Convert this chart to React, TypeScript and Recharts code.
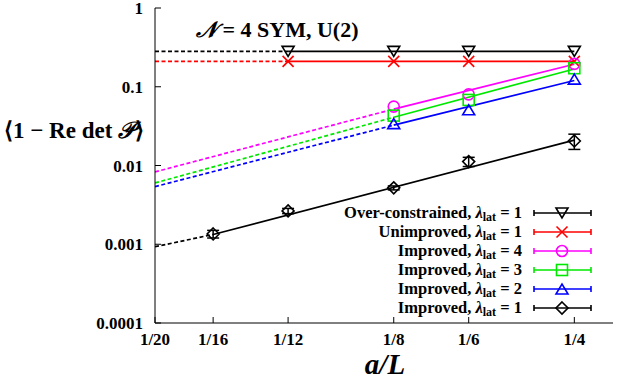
import React from 'react';
import { ComposedChart, Line, Scatter, XAxis, YAxis, ErrorBar } from 'recharts';

// axis ticks
const xTicks = [1 / 20, 1 / 16, 1 / 12, 1 / 8, 1 / 6, 1 / 4];
const xTickLabels = ['1/20', '1/16', '1/12', '1/8', '1/6', '1/4'];
const yTicks = [0.0001, 0.001, 0.01, 0.1, 1];
const yTickLabels = ['0.0001', '0.001', '0.01', '0.1', '1'];

// measured points
const overX = [1 / 12, 1 / 8, 1 / 6, 1 / 4];
const overY = [0.281, 0.281, 0.281, 0.281];
const unimpX = [1 / 12, 1 / 8, 1 / 6, 1 / 4];
const unimpY = [0.21, 0.21, 0.21, 0.21];
const imp4X = [1 / 8, 1 / 6, 1 / 4];
const imp4Y = [0.056, 0.08, 0.195];
const imp3X = [1 / 8, 1 / 6, 1 / 4];
const imp3Y = [0.043, 0.068, 0.172];
const imp2X = [1 / 8, 1 / 6, 1 / 4];
const imp2Y = [0.034, 0.051, 0.125];
const imp1X = [1 / 16, 1 / 12, 1 / 8, 1 / 6, 1 / 4];
const imp1Y = [0.00135, 0.00265, 0.0052, 0.0112, 0.0205];
const imp1Err = [0.00015, 0.0002, 0.0003, 0.0015, 0.0045];

// fits (solid) and their extrapolation to 1/20 (dashed)
const overFitX = [1 / 12, 1 / 4];
const overFitY = [0.281, 0.281];
const overExtX = [1 / 20, 1 / 12];
const overExtY = [0.281, 0.281];
const unimpFitX = [1 / 12, 1 / 4];
const unimpFitY = [0.21, 0.21];
const unimpExtX = [1 / 20, 1 / 12];
const unimpExtY = [0.21, 0.21];
const imp4FitX = [1 / 8, 1 / 4];
const imp4FitY = [0.052, 0.193];
const imp4ExtX = [1 / 20, 1 / 8];
const imp4ExtY = [0.0083, 0.052];
const imp3FitX = [1 / 8, 1 / 4];
const imp3FitY = [0.041, 0.168];
const imp3ExtX = [1 / 20, 1 / 8];
const imp3ExtY = [0.006, 0.041];
const imp2FitX = [1 / 8, 1 / 4];
const imp2FitY = [0.0326, 0.12];
const imp2ExtX = [1 / 20, 1 / 8];
const imp2ExtY = [0.0054, 0.0326];
const imp1FitX = [1 / 16, 1 / 4];
const imp1FitY = [0.00133, 0.021];
const imp1ExtX = [1 / 20, 1 / 16];
const imp1ExtY = [0.00093, 0.00133];

const pts = (xs: number[], ys: number[], errs?: number[]) =>
  xs.map((x, i) => ({ x, y: ys[i], err: errs ? errs[i] : 0 }));

type MarkerKind = 'triDown' | 'cross' | 'circle' | 'square' | 'triUp' | 'diamond';

const series = [
  { label: 'Over-constrained', lam: 1, color: '#000000', marker: 'triDown' as MarkerKind, points: pts(overX, overY), fit: pts(overFitX, overFitY), ext: pts(overExtX, overExtY) },
  { label: 'Unimproved', lam: 1, color: '#ff0000', marker: 'cross' as MarkerKind, points: pts(unimpX, unimpY), fit: pts(unimpFitX, unimpFitY), ext: pts(unimpExtX, unimpExtY) },
  { label: 'Improved', lam: 4, color: '#ff00ff', marker: 'circle' as MarkerKind, points: pts(imp4X, imp4Y), fit: pts(imp4FitX, imp4FitY), ext: pts(imp4ExtX, imp4ExtY) },
  { label: 'Improved', lam: 3, color: '#00e800', marker: 'square' as MarkerKind, points: pts(imp3X, imp3Y), fit: pts(imp3FitX, imp3FitY), ext: pts(imp3ExtX, imp3ExtY) },
  { label: 'Improved', lam: 2, color: '#0000ff', marker: 'triUp' as MarkerKind, points: pts(imp2X, imp2Y), fit: pts(imp2FitX, imp2FitY), ext: pts(imp2ExtX, imp2ExtY) },
  { label: 'Improved', lam: 1, color: '#000000', marker: 'diamond' as MarkerKind, points: pts(imp1X, imp1Y, imp1Err), fit: pts(imp1FitX, imp1FitY), ext: pts(imp1ExtX, imp1ExtY), errors: true },
];

const FONT = '"Liberation Serif", "Times New Roman", serif';
const TICK = 6;

const Marker = ({ kind, cx, cy, color }: { kind: MarkerKind; cx: number; cy: number; color: string }) => {
  const sw = 1.6;
  const common = { fill: 'none', stroke: color, strokeWidth: sw };
  switch (kind) {
    case 'triDown':
      return <polygon points={`${cx - 6},${cy - 5} ${cx + 6},${cy - 5} ${cx},${cy + 5}`} {...common} />;
    case 'triUp':
      return <polygon points={`${cx - 6},${cy + 5} ${cx + 6},${cy + 5} ${cx},${cy - 5}`} {...common} />;
    case 'cross':
      return (
        <g {...common}>
          <line x1={cx - 5.5} y1={cy - 5.5} x2={cx + 5.5} y2={cy + 5.5} />
          <line x1={cx - 5.5} y1={cy + 5.5} x2={cx + 5.5} y2={cy - 5.5} />
        </g>
      );
    case 'circle':
      return <circle cx={cx} cy={cy} r={5.5} {...common} />;
    case 'square':
      return <rect x={cx - 5.5} y={cy - 5.5} width={11} height={11} {...common} />;
    default:
      return <polygon points={`${cx},${cy - 6} ${cx + 6},${cy} ${cx},${cy + 6} ${cx - 6},${cy}`} {...common} />;
  }
};

const idx = (arr: number[], v: number) => arr.findIndex((t) => Math.abs(t - v) < 1e-9);

const BottomTick = (props: any) => {
  const { x, y, payload } = props;
  return (
    <g>
      <line x1={x} x2={x} y1={y} y2={y - TICK} stroke="#000" />
      <text x={x} y={y + 22} textAnchor="middle" style={{ fontFamily: FONT }} fontWeight="bold" fontSize={17} fill="#000">
        {xTickLabels[idx(xTicks, payload.value)]}
      </text>
    </g>
  );
};

const TopTick = (props: any) => {
  const { x, y } = props;
  return <line x1={x} x2={x} y1={y} y2={y + TICK} stroke="#000" />;
};

const LeftTick = (props: any) => {
  const { x, y, payload } = props;
  return (
    <g>
      <line x1={x} x2={x + TICK} y1={y} y2={y} stroke="#000" />
      <text x={x - 12} y={y + 6} textAnchor="end" style={{ fontFamily: FONT }} fontWeight="bold" fontSize={17} fill="#000">
        {yTickLabels[idx(yTicks, payload.value)]}
      </text>
    </g>
  );
};

const RightTick = (props: any) => {
  const { x, y } = props;
  return <line x1={x} x2={x - TICK} y1={y} y2={y} stroke="#000" />;
};

const legendRows = [213, 232, 251, 270, 289, 308];

export default function App() {
  return (
    <div style={{ position: 'absolute', left: 0, top: 0, width: 620, height: 381, background: '#fff', fontFamily: FONT }}>
      <ComposedChart width={620} height={381} margin={{ top: 8, right: 7, bottom: 0, left: 0 }}>
        <XAxis
          dataKey="x"
          type="number"
          scale="log"
          domain={[0.05, 0.29]}
          allowDataOverflow
          ticks={xTicks}
          interval={0}
          height={58}
          tickSize={0}
          tickMargin={0}
          tick={<BottomTick />}
          axisLine={{ stroke: '#000' }}
          tickLine={false}
        />
        <XAxis
          xAxisId="top"
          orientation="top"
          dataKey="x"
          type="number"
          scale="log"
          domain={[0.05, 0.29]}
          allowDataOverflow
          ticks={xTicks}
          interval={0}
          height={0}
          tickSize={0}
          tickMargin={0}
          tick={<TopTick />}
          axisLine={{ stroke: '#000' }}
          tickLine={false}
        />
        <YAxis
          dataKey="y"
          type="number"
          scale="log"
          domain={[0.0001, 1]}
          allowDataOverflow
          ticks={yTicks}
          interval={0}
          width={155}
          tickSize={0}
          tickMargin={0}
          tick={<LeftTick />}
          axisLine={{ stroke: '#000' }}
          tickLine={false}
        />
        <YAxis
          yAxisId="right"
          orientation="right"
          dataKey="y"
          type="number"
          scale="log"
          domain={[0.0001, 1]}
          allowDataOverflow
          ticks={yTicks}
          interval={0}
          width={0}
          tickSize={0}
          tickMargin={0}
          tick={<RightTick />}
          axisLine={{ stroke: '#000' }}
          tickLine={false}
        />
        {series.map((s, i) => (
          <Line
            key={`ext-${i}`}
            data={s.ext}
            dataKey="y"
            type="linear"
            stroke={s.color}
            strokeWidth={1.7}
            strokeDasharray="4 2.5"
            dot={false}
            activeDot={false}
            isAnimationActive={false}
          />
        ))}
        {series.map((s, i) => (
          <Line
            key={`fit-${i}`}
            data={s.fit}
            dataKey="y"
            type="linear"
            stroke={s.color}
            strokeWidth={1.7}
            dot={false}
            activeDot={false}
            isAnimationActive={false}
          />
        ))}
        {series.map((s, i) => (
          <Scatter
            key={`pts-${i}`}
            data={s.points}
            dataKey="y"
            fill={s.color}
            isAnimationActive={false}
            shape={(p: any) => <Marker kind={s.marker} cx={p.cx} cy={p.cy} color={s.color} />}
          >
            {s.errors && <ErrorBar dataKey="err" direction="y" width={6} stroke={s.color} strokeWidth={1.5} />}
          </Scatter>
        ))}
      </ComposedChart>

      {/* title */}
      <div style={{ position: 'absolute', left: 196, top: 16, fontSize: 22, fontWeight: 'bold', whiteSpace: 'nowrap', lineHeight: '28px' }}>
        <span style={{ fontStyle: 'italic' }}>𝒩</span> = 4 SYM, U(2)
      </div>

      {/* y axis label */}
      <div style={{ position: 'absolute', left: 4, top: 117, fontSize: 23, fontWeight: 'bold', whiteSpace: 'nowrap', lineHeight: '28px' }}>
        ⟨1 − Re det <span style={{ fontStyle: 'italic' }}>𝒫</span>⟩
      </div>

      {/* x axis label */}
      <div style={{ position: 'absolute', left: 335, top: 351, width: 100, textAlign: 'center', fontSize: 29, fontWeight: 'bold', fontStyle: 'italic', lineHeight: '26px' }}>
        a/L
      </div>

      {/* legend */}
      {series.map((s, i) => (
        <div
          key={`lg-${i}`}
          style={{ position: 'absolute', left: 200, width: 322, top: legendRows[i] - 10, height: 20, lineHeight: '20px', textAlign: 'right', fontSize: 16.5, fontWeight: 'bold', whiteSpace: 'nowrap' }}
        >
          {s.label}, <span style={{ fontStyle: 'italic' }}>λ</span>
          <span style={{ fontSize: 12, verticalAlign: '-3px' }}>lat</span> = {s.lam}
        </div>
      ))}
      <svg style={{ position: 'absolute', left: 0, top: 0 }} width={620} height={381} pointerEvents="none">
        {series.map((s, i) => {
          const y = legendRows[i];
          return (
            <g key={`ls-${i}`}>
              <line x1={534} x2={591} y1={y} y2={y} stroke={s.color} strokeWidth={1.6} />
              <line x1={534} x2={534} y1={y - 3} y2={y + 3} stroke={s.color} strokeWidth={1.6} />
              <line x1={591} x2={591} y1={y - 3} y2={y + 3} stroke={s.color} strokeWidth={1.6} />
              <Marker kind={s.marker} cx={562} cy={y} color={s.color} />
            </g>
          );
        })}
      </svg>
    </div>
  );
}
